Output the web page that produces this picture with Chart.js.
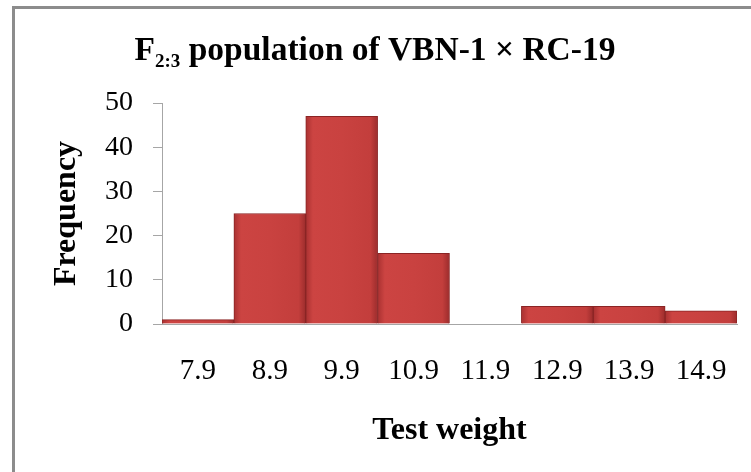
<!DOCTYPE html>
<html>
<head>
<meta charset="utf-8">
<script src="https://cdn.jsdelivr.net/npm/chart.js@4"></script>
<style>
  html, body { margin: 0; padding: 0; background: #fff; }
  #wrap { position: relative; width: 751px; height: 472px; overflow: hidden; }
  #frame { position: absolute; left: 12px; top: 6px; width: 760px; height: 480px;
           border-left: 3px solid #8c8c8c; border-top: 3px solid #8c8c8c; }
  canvas { position: absolute; left: 0; top: 0; }
</style>
</head>
<body>
<div id="wrap">
  <div id="frame"></div>
  <canvas id="myChart" width="751" height="472"></canvas>
</div>
<script>
// data
const testWeight = ['7.9', '8.9', '9.9', '10.9', '11.9', '12.9', '13.9', '14.9'];
const frequency = [1, 25, 47, 16, 0, 4, 4, 3];
const yTicks = [0, 10, 20, 30, 40, 50];

const serif = "'Liberation Serif', 'Times New Roman', serif";

// title with the subscript 2:3, drawn by hand
const subTitle = {
    id: 'subTitle',
    afterDraw(chart) {
        const ctx = chart.ctx;
        const big = 'bold 33.5px ' + serif;
        const small = 'bold 19px ' + serif;
        const rest = ' population of VBN-1 \u00d7 RC-19';
        ctx.save();
        ctx.fillStyle = '#000';
        ctx.textBaseline = 'alphabetic';
        ctx.font = big;
        const wF = ctx.measureText('F').width;
        const wRest = ctx.measureText(rest).width;
        ctx.font = small;
        const wSub = ctx.measureText('2:3').width;
        let x = 375 - (wF + wSub + wRest) / 2;
        const y = 60;
        ctx.font = big;
        ctx.fillText('F', x, y);
        x += wF;
        ctx.font = small;
        ctx.fillText('2:3', x, y + 7);
        x += wSub;
        ctx.font = big;
        ctx.fillText(rest, x, y);
        ctx.restore();
    }
};

// soft horizontal shading like the bevelled bars
function barFill(context) {
    const c = context.chart;
    const sx = c.scales && c.scales.x;
    if (!sx || context.dataIndex === undefined || !sx.width) return '#c73f3c';
    const w = sx.width / testWeight.length;
    const x0 = sx.getPixelForValue(context.dataIndex) - w / 2;
    const g = c.ctx.createLinearGradient(x0, 0, x0 + w, 0);
    g.addColorStop(0, '#a93131');
    g.addColorStop(0.1, '#cc4442');
    g.addColorStop(0.5, '#c94240');
    g.addColorStop(0.9, '#c33e3c');
    g.addColorStop(1, '#9c2c2c');
    return g;
}

const chart = new Chart(document.getElementById('myChart'), {
    type: 'bar',
    data: {
        labels: testWeight,
        datasets: [{
            label: 'Frequency',
            data: frequency,
            backgroundColor: barFill,
            borderColor: '#8a2424',
            borderWidth: 1,
            barPercentage: 1,
            categoryPercentage: 1
        }]
    },
    options: {
        responsive: false,
        animation: false,
        layout: { padding: { top: 103, right: 14, bottom: 20, left: 44 } },
        plugins: {
            legend: { display: false },
            tooltip: { enabled: false }
        },
        scales: {
            x: {
                // invisible tick marks push the labels down without widening the side padding
                grid: { display: true, drawOnChartArea: false, drawTicks: true, tickLength: 28, color: 'rgba(0,0,0,0)' },
                border: { color: '#a6a6a6', width: 1 },
                ticks: { color: '#000', padding: 2, font: { family: serif, size: 29 } },
                title: {
                    display: true, text: 'Test weight', color: '#000',
                    font: { family: serif, size: 32, weight: 'bold' },
                    padding: { top: 0, bottom: 2 }
                },
                afterFit(scale) { scale.height = 128; }
            },
            y: {
                min: 0, max: 50,
                afterBuildTicks(scale) { scale.ticks = yTicks.map(v => ({ value: v })); },
                grid: { drawOnChartArea: false, drawTicks: true, tickLength: 9, color: '#a6a6a6' },
                border: { color: '#a6a6a6', width: 1 },
                ticks: { color: '#000', padding: 20, font: { family: serif, size: 28 } },
                title: {
                    display: true, text: 'Frequency', color: '#000',
                    font: { family: serif, size: 32, weight: 'bold' },
                    padding: { top: 4, bottom: 0 }
                },
                afterFit(scale) { scale.width = 118; }
            }
        }
    },
    plugins: [subTitle]
});
</script>
</body>
</html>
